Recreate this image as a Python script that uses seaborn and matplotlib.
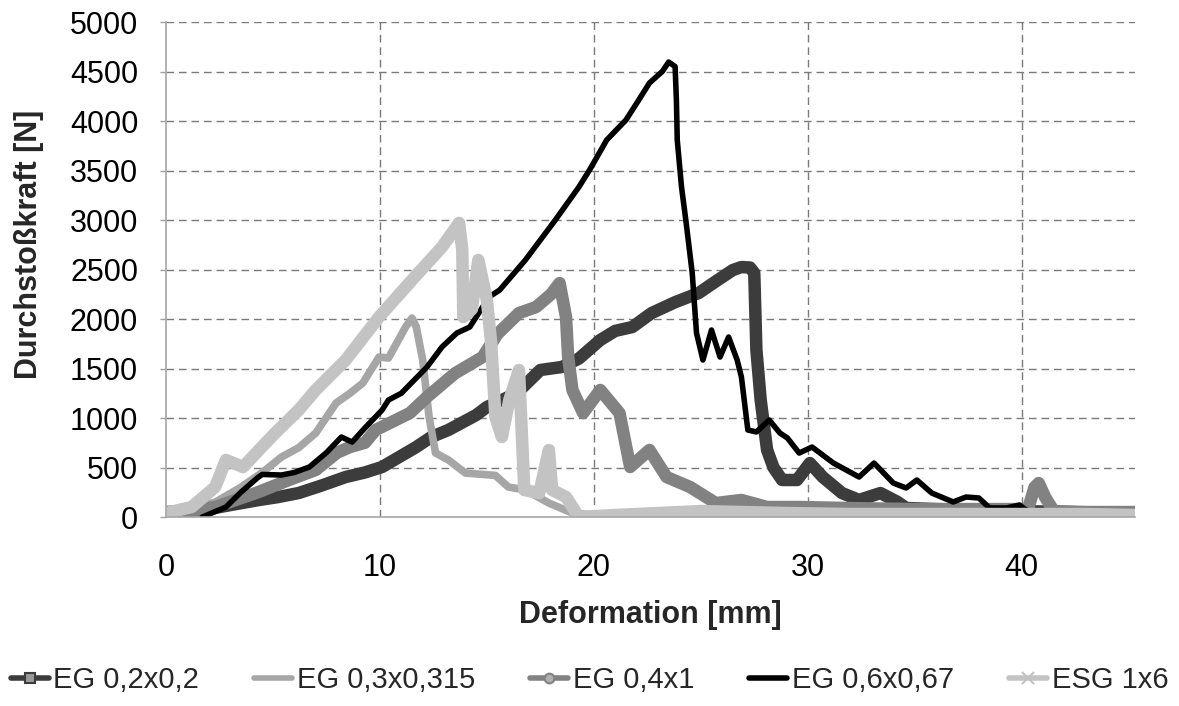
import matplotlib
matplotlib.use("Agg")
import matplotlib.pyplot as plt
from matplotlib.lines import Line2D
import seaborn as sns
import pandas as pd

# ---------------- data ----------------
labels = ["EG 0,2x0,2", "EG 0,3x0,315", "EG 0,4x1", "EG 0,6x0,67", "ESG 1x6"]

eg02_x = [0, 1, 2, 3, 4.35, 5.2, 6.2, 7.3, 8.4, 9.3, 10.1, 10.9, 11.7, 12.4, 13.2, 14.5, 15.0,
          16.4, 17.5, 18.5, 19.3, 20.3, 21.0, 21.8, 22.7, 23.8, 24.9, 25.7, 26.5, 26.9, 27.3,
          27.5, 27.6, 27.8, 28.1, 28.4, 28.8, 29.5, 30.1, 30.7, 31.6, 32.4, 33.4, 34.2, 34.6,
          36, 38, 40, 42, 45.3]
eg02_y = [50, 60, 80, 120, 172, 200, 242, 320, 404, 450, 505, 606, 707, 808, 879, 1030, 1111,
          1252, 1485, 1515, 1600, 1788, 1880, 1919, 2060, 2170, 2262, 2380, 2495, 2525, 2520,
          2465, 1687, 1182, 677, 500, 374, 374, 545, 404, 242, 172, 242, 152, 91,
          80, 70, 60, 50, 40]

eg03_x = [0, 1, 2.3, 3.5, 4.5, 5.4, 6.2, 7.0, 7.95, 8.6, 9.2, 9.96, 10.4, 11.2, 11.5, 11.7,
          12.0, 12.3, 12.6, 13.2, 14.0, 15.4, 16.0, 16.8, 17.9, 19.0, 20, 25, 30, 35, 40, 45.3]
eg03_y = [50, 80, 150, 300, 450, 606, 700, 848, 1151, 1250, 1353, 1616, 1606, 1919, 2010, 1919,
          1586, 1010, 646, 576, 444, 420, 303, 273, 141, 40, 20, 20, 30, 30, 30, 30]

eg04_x = [0, 1, 2.3, 4.2, 5.75, 7.0, 8.0, 8.6, 9.3, 9.8, 11.4, 12.2, 13.5, 14.8, 15.5, 16.5,
          17.3, 18.0, 18.4, 18.7, 18.8, 19.0, 19.5, 20.3, 21.2, 21.7, 22.6, 23.4, 24.5, 25.7,
          26.9, 28.1, 29.6, 32, 35, 38, 40.3, 40.6, 40.8, 41.1, 41.5, 43, 45.3]
eg04_y = [30, 60, 101, 242, 374, 475, 650, 707, 750, 879, 1050, 1212, 1450, 1616, 1850, 2060,
          2121, 2250, 2363, 2020, 1616, 1283, 1050, 1283, 1050, 505, 677, 404, 303, 141,
          172, 101, 101, 90, 80, 80, 80, 300, 343, 200, 60, 50, 50]

eg06_x = [1.7, 2.8, 3.5, 4.3, 4.5, 5.4, 6.0, 6.7, 7.5, 8.2, 8.7, 9.3, 10.1, 10.4, 11.0, 12.2,
          12.9, 13.6, 14.2, 15.1, 15.6, 16.8, 18.2, 19.3, 19.8, 20.6, 21.5, 22.1, 22.6, 23.2,
          23.5, 23.8, 23.86, 23.9, 24.1, 24.3, 24.6, 24.8, 25.1, 25.5, 25.9, 26.3, 26.7, 26.9,
          27.2, 27.6, 28.2, 28.7, 29.05, 29.6, 30.2, 31.2, 32.4, 33.1, 34.0, 34.6, 35.1, 35.8,
          36.8, 37.4, 38.0, 38.5, 39.3, 39.9, 40.2, 40.8]
eg06_y = [0, 100, 250, 400, 430, 424, 450, 505, 650, 808, 757, 900, 1080, 1182, 1250, 1515,
          1717, 1859, 1919, 2222, 2293, 2596, 3000, 3333, 3505, 3808, 4010, 4212, 4384, 4500,
          4596, 4550, 4212, 3808, 3333, 3000, 2465, 1859, 1586, 1889, 1616, 1818, 1586, 1414,
          879, 859, 980, 848, 798, 646, 707, 545, 404, 545, 343, 293, 374, 242,
          152, 202, 192, 91, 91, 121, 71, 40]

esg_x = [0, 1.2, 2.3, 2.8, 3.6, 4.35, 5.1, 6.2, 7.0, 8.4, 9.96, 11.5, 12.9, 13.7, 13.85, 13.9,
         14.3, 14.6, 15.0, 15.2, 15.4, 15.7, 16.05, 16.5, 16.6, 16.75, 17.45, 17.9, 18.05, 18.7,
         19.3, 21, 23, 25, 27, 29, 32, 36, 40, 43, 45.3]
esg_y = [40, 101, 303, 576, 505, 677, 848, 1080, 1283, 1586, 2020, 2394, 2727, 2970, 2700, 2020,
         2100, 2596, 2192, 1757, 1010, 808, 1182, 1485, 1010, 273, 242, 677, 273, 202,
         0, 20, 40, 60, 50, 40, 30, 30, 30, 30, 20]

xs = [eg02_x, eg03_x, eg04_x, eg06_x, esg_x]
ys = [eg02_y, eg03_y, eg04_y, eg06_y, esg_y]
colors = ["#3c3c3c", "#a6a6a6", "#828282", "#000000", "#c3c3c3"]
widths = [9, 5.5, 9, 4, 9]

y_ticks = list(range(0, 5001, 500))
x_ticks = [0, 10, 20, 30, 40]

# ---------------- style ----------------
sns.set_theme(style="white")
plt.rcParams["font.family"] = ["Liberation Sans", "DejaVu Sans"]

fig = plt.figure(figsize=(11.79, 7.06), dpi=100)
ax = fig.add_axes([0.1408, 0.2677, 0.8219, 0.7011])

for lab, x, y, c, w in zip(labels, xs, ys, colors, widths):
    df = pd.DataFrame({"x": x, "y": y})
    sns.lineplot(data=df, x="x", y="y", ax=ax, color=c, linewidth=w, sort=False,
                 estimator=None, solid_joinstyle="round", solid_capstyle="round", legend=False)

ax.set_xlim(0, 45.3)
ax.set_ylim(0, 5000)
ax.set_xticks(x_ticks)
ax.set_yticks(y_ticks)
ax.set_xticklabels([str(t) for t in x_ticks], fontsize=22)
ax.set_yticklabels([str(t) for t in y_ticks], fontsize=22)
ax.tick_params(axis="x", length=0, pad=26, colors="black")
ax.tick_params(axis="y", length=4, width=1, pad=16, colors="black", direction="out", left=True)
ax.tick_params(axis="y", color="#a0a0a0")

for v in y_ticks[1:]:
    ax.axhline(v, color="#7a7a7a", lw=1.0, dashes=(5.5, 3.5), zorder=0)
for v in x_ticks[1:]:
    ax.axvline(v, color="#7a7a7a", lw=1.0, dashes=(5.5, 3.5), zorder=0)

for s in ["top", "right"]:
    ax.spines[s].set_visible(False)
for s in ["left", "bottom"]:
    ax.spines[s].set_color("#a6a6a6")
    ax.spines[s].set_linewidth(1.2)

ax.set_xlabel("Deformation [mm]", fontsize=22, fontweight="bold")
ax.set_ylabel("Durchstoßkraft [N]", fontsize=22, fontweight="bold")
ax.xaxis.set_label_coords(0.5, -0.168)
ax.yaxis.set_label_coords(-0.126, 0.55)

handles = [
    Line2D([], [], color=colors[0], lw=4, marker="s", ms=7, mfc="#9a9a9a", mec=colors[0], mew=1.5),
    Line2D([], [], color=colors[1], lw=4),
    Line2D([], [], color=colors[2], lw=4, marker="o", ms=7, mfc="#b0b0b0", mec=colors[2], mew=1.5),
    Line2D([], [], color=colors[3], lw=4),
    Line2D([], [], color=colors[4], lw=4, marker="x", ms=9, mec=colors[4], mew=1.5),
]
fig.legend(handles=handles, labels=labels, loc="center", bbox_to_anchor=(0.5, 0.037), ncol=5,
           frameon=False, fontsize=21, handlelength=1.3, handletextpad=0.15, columnspacing=1.9,
           borderaxespad=0)

fig.savefig("out.png", dpi=100)
